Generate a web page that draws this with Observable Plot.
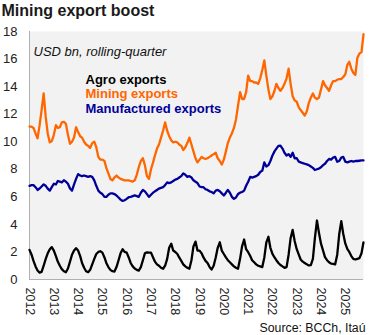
<!DOCTYPE html>
<html><head><meta charset="utf-8">
<script src="https://cdn.jsdelivr.net/npm/d3@7"></script>
<script src="https://cdn.jsdelivr.net/npm/@observablehq/plot@0.6"></script>
<style>body{margin:0;background:#fff;}</style>
</head><body><div id="chart"></div>
<script>
const titleText = "Mining export boost";
const unitNote = "USD bn, rolling-quarter";
const sourceText = "Source: BCCh, Itaú";
const seriesNames = ["Agro exports", "Mining exports", "Manufactured exports"];
const seriesColors = ["#000000", "#ff6600", "#000099"];
const startYear = 2012;
const yearTicks = [2012,2013,2014,2015,2016,2017,2018,2019,2020,2021,2022,2023,2024,2025];
const yTicks = [0,2,4,6,8,10,12,14,16,18];

// monthly, Jan 2012 .. Oct 2025
const agro = [
 2.15,1.8,1.35,0.95,0.65,0.5,0.55,1.0,1.5,1.9,2.2,2.35,
 2.1,1.7,1.3,1.0,0.75,0.6,0.53,0.8,1.3,1.8,2.1,2.27,
 2.1,1.7,1.2,0.85,0.6,0.53,0.7,1.1,1.5,1.85,2.0,2.05,
 1.95,1.6,1.2,0.9,0.7,0.6,0.58,0.9,1.4,1.9,2.2,2.0,
 1.95,1.6,1.2,0.95,0.8,0.7,0.65,0.9,1.4,1.9,1.97,1.95,
 1.95,1.6,1.3,1.1,1.0,0.85,0.78,1.0,1.5,2.3,2.6,2.1,
 2.0,1.85,1.6,1.35,1.1,0.95,0.85,0.78,1.4,2.4,2.75,2.1,
 2.1,1.9,1.6,1.35,1.2,0.9,0.72,1.0,1.6,2.3,2.7,2.1,
 1.85,1.6,1.4,1.25,1.1,0.95,0.85,0.78,1.5,2.4,2.9,2.2,
 1.98,1.7,1.4,1.25,1.1,1.0,0.95,0.9,1.6,2.7,3.1,2.3,
 1.86,1.6,1.4,1.2,1.05,0.95,0.85,0.9,1.8,3.0,3.6,2.8,
 2.2,1.8,1.45,1.3,1.2,1.1,1.02,1.05,1.5,3.0,4.28,3.4,
 2.6,2.1,1.62,1.4,1.25,1.15,1.14,1.1,1.8,3.3,4.23,3.3,
 2.6,2.2,2.0,1.7,1.5,1.45,1.5,1.55,1.9,2.7
];
const mining = [
 11.1,11.1,11.0,10.6,10.25,11.2,12.3,13.5,11.8,10.6,9.95,10.05,
 10.5,11.2,11.0,11.05,11.4,11.45,11.3,10.5,9.85,10.0,10.3,11.05,
 10.7,10.4,10.3,10.0,9.8,9.7,9.55,9.9,10.0,9.6,8.9,8.7,
 8.7,8.6,8.1,7.7,7.3,7.2,7.4,7.55,7.4,7.3,7.25,7.2,
 7.2,7.2,7.15,7.1,7.2,7.6,8.15,8.6,8.8,8.3,7.5,7.3,
 8.0,8.5,9.0,9.5,9.8,10.3,10.8,11.4,10.8,10.4,10.1,9.95,
 10.0,9.95,9.8,9.7,9.4,9.6,9.9,10.3,9.8,9.3,8.8,8.5,
 8.7,8.9,8.8,8.75,8.8,8.9,9.0,9.1,9.2,8.8,8.6,8.35,
 8.7,9.3,9.9,10.3,10.6,11.0,11.6,12.6,13.6,13.1,13.1,13.6,
 14.8,14.4,14.4,14.3,14.3,14.2,14.6,15.2,15.9,14.8,13.8,13.1,
 13.3,13.7,14.2,13.9,13.7,13.9,14.2,14.6,15.3,14.2,13.3,13.0,
 12.9,12.5,12.3,12.1,11.9,12.2,12.8,13.2,13.5,13.2,13.1,13.2,
 13.8,14.4,14.1,13.9,13.7,14.1,14.4,14.4,14.5,14.55,14.55,14.7,
 14.9,15.6,15.8,15.3,15.0,14.85,16.1,16.4,16.5,17.8
];
const manufactured = [
 6.8,6.85,6.85,6.7,6.5,6.6,6.75,6.9,6.8,6.6,6.45,6.7,
 6.95,6.9,7.15,7.1,7.05,7.2,7.1,6.95,6.6,6.45,6.9,7.3,
 7.65,7.55,7.5,7.55,7.5,7.45,7.5,7.45,7.2,6.8,6.45,6.3,
 6.2,6.0,6.0,6.15,6.25,6.25,6.2,6.1,5.95,5.8,5.7,5.75,
 5.85,5.97,6.0,6.05,6.1,6.05,6.0,6.3,6.5,6.4,6.2,6.0,
 6.15,6.3,6.4,6.5,6.6,6.65,6.7,6.85,7.05,7.0,7.05,7.15,
 7.25,7.3,7.4,7.5,7.7,7.6,7.45,7.5,7.4,7.2,7.1,7.0,
 6.75,6.7,6.7,6.55,6.5,6.4,6.35,6.25,6.45,6.5,6.4,6.25,
 6.1,6.3,6.5,6.3,6.0,5.85,5.95,6.2,6.3,6.35,6.45,6.8,
 7.1,7.45,7.4,7.45,7.5,7.6,7.8,7.9,8.5,8.2,8.3,8.6,
 9.0,9.3,9.5,9.7,9.72,9.5,9.2,9.0,9.1,8.9,9.2,8.8,
 8.8,8.55,8.5,8.45,8.4,8.35,8.3,8.2,8.1,7.95,8.0,8.05,
 8.15,8.3,8.4,8.6,8.75,8.7,8.85,8.9,8.55,8.6,8.85,8.9,
 8.55,8.5,8.55,8.6,8.55,8.6,8.6,8.62,8.64,8.65
];

const months = d3.range(agro.length).map(i => new Date(Date.UTC(startYear, i, 1)));
const rows = [];
[agro, mining, manufactured].forEach((arr, k) =>
  arr.forEach((v, i) => rows.push({date: months[i], value: v, series: seriesNames[k]})));

const font = "'Liberation Sans', Arial, sans-serif";
const legendMarks = seriesNames.map((name, i) =>
  Plot.text([name], {frameAnchor: "top-left", dx: 56, dy: 52 + i * 14.6, textAnchor: "start", lineAnchor: "bottom",
    fontSize: 13, fontWeight: "bold", fill: seriesColors[i]}));

const chart = Plot.plot({
  width: 376, height: 335,
  marginLeft: 29, marginRight: 13, marginTop: 31, marginBottom: 56,
  style: {fontFamily: font, color: "#222", background: "#fff", overflow: "visible"},
  x: {type: "utc", domain: [months[0], months[months.length - 1]], label: null},
  y: {domain: [0, 18], label: null},
  color: {domain: seriesNames, range: seriesColors},
  marks: [
    Plot.frame({fill: "#f2f2f2", stroke: null}),
    Plot.ruleX([months[0]], {stroke: "#b0b0b0"}),
    Plot.ruleY([0], {stroke: "#b0b0b0"}),
    Plot.axisY({ticks: yTicks, tickSize: 0, tickPadding: 12, fontSize: 13, label: null}),
    Plot.axisX({ticks: yearTicks.map(y => new Date(Date.UTC(y, 0, 1))), tickFormat: d3.utcFormat("%Y"),
      tickSize: 0, tickRotate: 90, tickPadding: 8, fontSize: 12.5, label: null}),
    Plot.line(rows, {x: "date", y: "value", z: "series", stroke: "series", strokeWidth: 2.3}),
    Plot.text([titleText], {frameAnchor: "top-left", dx: -28, dy: -16, textAnchor: "start", lineAnchor: "bottom",
      fontSize: 16, fontWeight: "bold", fill: "#1a1a1a"}),
    Plot.text([unitNote], {frameAnchor: "top-left", dx: 4, dy: 24, textAnchor: "start", lineAnchor: "bottom",
      fontSize: 13, fontStyle: "italic", fill: "#111"}),
    ...legendMarks,
    Plot.text([sourceText], {frameAnchor: "bottom-right", dx: 2, dy: 52, textAnchor: "end", lineAnchor: "bottom",
      fontSize: 12.3, fill: "#111"})
  ]
});
document.getElementById("chart").appendChild(chart);
</script>
</body></html>
